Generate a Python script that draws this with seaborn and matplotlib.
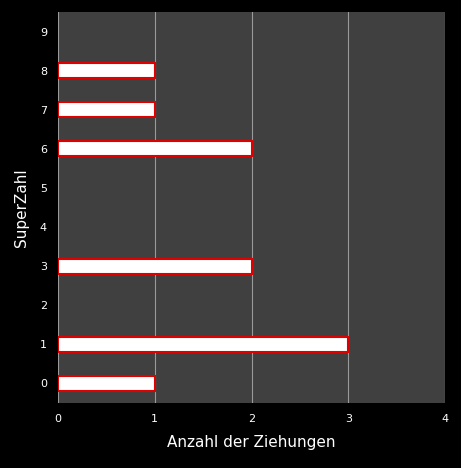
import matplotlib
matplotlib.use("Agg")
import matplotlib.pyplot as plt
import seaborn as sns
import pandas as pd

superzahl = ["0","1","2","3","4","5","6","7","8","9"]
anzahl = [1, 3, 0, 2, 0, 0, 2, 1, 1, 0]

df = pd.DataFrame({"SuperZahl": superzahl, "Anzahl": anzahl})
order = superzahl[::-1]

fig = plt.figure(figsize=(4.61, 4.68), dpi=100, facecolor="black")
ax = fig.add_axes([58/461, 1-403/468, (445-58)/461, (403-12)/468])
ax.set_facecolor("#404040")
sns.barplot(data=df, y="SuperZahl", x="Anzahl", order=order, orient="h",
            color="white", edgecolor="#e00000", linewidth=1.5, width=0.38, ax=ax)
for p in ax.patches:
    if p.get_width() == 0:
        p.set_visible(False)
ax.set_xlim(0, 4)
ax.set_xticks([0, 1, 2, 3, 4])
ax.grid(axis="x", color="#9a9a9a", linewidth=0.8)
ax.set_axisbelow(True)
for s in ax.spines.values():
    s.set_visible(False)
ax.tick_params(colors="white", labelsize=8, length=0, pad=8)
ax.set_xlabel("Anzahl der Ziehungen", color="white", fontsize=11, labelpad=8)
ax.set_ylabel("SuperZahl", color="white", fontsize=11, labelpad=8)
fig.savefig("out.png", dpi=100, facecolor="black")
